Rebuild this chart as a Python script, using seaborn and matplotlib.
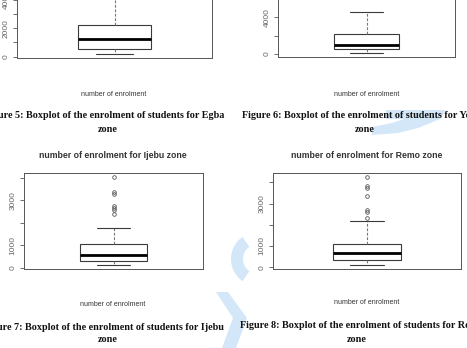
import numpy as np
import pandas as pd
import matplotlib
matplotlib.use("Agg")
import matplotlib.pyplot as plt
from matplotlib.patches import Polygon, Wedge
import seaborn as sns

zones = ["Egba", "Yewa", "Ijebu", "Remo"]
lower_whisker = [200, 130, 100, 80]
q1 = [500, 500, 300, 350]
median = [1250, 1000, 550, 650]
q3 = [2200, 2150, 1040, 1080]
upper_whisker = [4650, 4550, 1770, 2170]
outliers = [
    [],
    [],
    [4050, 3380, 3260, 2750, 2660, 2560, 2370],
    [4280, 3830, 3760, 3380, 2710, 2590, 2300],
]
fig_numbers = [5, 6, 7, 8]
ytick_values = [[0, 1000, 2000, 3000, 4000, 5000],
                [0, 2000, 4000, 6000],
                [0, 1000, 2000, 3000, 4000],
                [0, 1000, 2000, 3000, 4000]]
ytick_labels = [["0", "", "2000", "", "4000", ""],
                ["0", "", "4000", ""],
                ["0", "1000", "", "3000", ""],
                ["0", "1000", "", "3000", ""]]
ylims = [(-70, 5200), (-360, 7000), (-58, 4208), (-88, 4448)]


def sample_from_summary(lo, a, m, b, hi, outs):
    """Build a sample whose boxplot statistics equal the given summary."""
    n_o = len(outs)
    k = n_o + 2
    return [lo] * (n_o + 1) + [a] * k + [m] + [b] * k + [hi] + list(outs)


frames = []
for i, z in enumerate(zones):
    vals = sample_from_summary(lower_whisker[i], q1[i], median[i], q3[i],
                               upper_whisker[i], outliers[i])
    frames.append(pd.DataFrame({"zone": z, "enrolment": vals}))
df = pd.concat(frames, ignore_index=True)

# ---- layout (pixels) ----
W, H = 467, 348
sns.set_style("white")
plt.rcParams["font.family"] = ["Liberation Sans", "DejaVu Sans"]

fig = plt.figure(figsize=(W / 100, H / 100), dpi=100)
fig.patch.set_facecolor("white")


def rect(x0, x1, ytop, ybot):
    return [x0 / W, 1 - ybot / H, (x1 - x0) / W, (ybot - ytop) / H]


def fx(x):
    return x / W


def fy(y):
    return 1 - y / H


# watermark (background)
wm = fig.add_axes([0, 0, 1, 1], zorder=-5)
wm.set_xlim(0, W)
wm.set_ylim(H, 0)
wm.axis("off")
wmc = "#d3e7f9"
wm.add_patch(Wedge((258, 259), 27, 125, 235, width=12, color=wmc, lw=0))
wm.add_patch(Polygon([(216, 292), (228, 292), (247, 318), (236, 348), (222, 348), (233, 318)],
                     closed=True, color=wmc, lw=0))
wm.add_patch(Polygon([(386, 110), (446, 110), (440, 119), (418, 128), (398, 133),
                      (372, 135), (372, 127), (392, 123), (404, 119), (386, 119)],
                     closed=True, color=wmc, lw=0))

axes_px = [(17, 212, -17.3, 57.5), (278, 455, -10.2, 57.3),
           (24, 203, 173, 269), (273, 461, 173, 269)]
box_widths = [0.37, 0.367, 0.374, 0.36]

line_c = "#3a3a3a"
spine_c = "#555555"
text_c = "#333333"

for i, z in enumerate(zones):
    x0, x1, yt, yb = axes_px[i]
    ax = fig.add_axes(rect(x0, x1, yt, yb))
    ax.set_facecolor("none")
    sub = df[df["zone"] == z]
    sns.boxplot(data=sub, y="enrolment", ax=ax, width=box_widths[i],
                color="white", linecolor=line_c, linewidth=0.8,
                whiskerprops={"linestyle": (0, (2.5, 1.5)), "color": "#777777"},
                capprops={"linestyle": "-", "color": line_c},
                medianprops={"color": "black", "linewidth": 2.0},
                flierprops={"marker": "o", "markersize": 2.6,
                            "markerfacecolor": "none",
                            "markeredgecolor": "#555555",
                            "markeredgewidth": 0.6})
    ax.set_xlim(-0.5, 0.5)
    ax.set_ylim(*ylims[i])
    ax.set_yticks(ytick_values[i])
    ax.set_yticklabels(ytick_labels[i], rotation=90, va="center",
                       fontsize=6, color="#666666")
    ax.tick_params(axis="y", left=True, length=3, width=0.6, color=spine_c, pad=2.5)
    ax.set_xticks([])
    ax.set_xlabel("")
    ax.set_ylabel("")
    for s in ax.spines.values():
        s.set_visible(True)
        s.set_color(spine_c)
        s.set_linewidth(0.7)

# axis labels "number of enrolment"
xlab_pos = [(114, 94), (367, 94), (113, 304), (367, 303)]
for (x, y) in xlab_pos:
    fig.text(fx(x), fy(y), "number of enrolment", ha="center", va="center",
             fontsize=5.0, color=text_c)

# titles for lower panels
fig.text(fx(113), fy(155), "number of enrolment for Ijebu zone", ha="center",
         va="center", fontsize=6.3, fontweight="bold", color=text_c)
fig.text(fx(367), fy(155), "number of enrolment for Remo zone", ha="center",
         va="center", fontsize=6.3, fontweight="bold", color=text_c)

# figure captions
cap_font = dict(family=["Liberation Serif", "DejaVu Serif"], fontweight="bold",
                fontsize=7.3, color="#111111", va="center")
caps = [
    (224, 116, "right", f"Figure {fig_numbers[0]}: Boxplot of the enrolment of students for {zones[0]}", 108, 129),
    (242, 116, "left", f"Figure {fig_numbers[1]}: Boxplot of the enrolment of students for {zones[1]}", 365, 129),
    (224, 327, "right", f"Figure {fig_numbers[2]}: Boxplot of the enrolment of students for {zones[2]}", 108, 339),
    (240, 325, "left", f"Figure {fig_numbers[3]}: Boxplot of the enrolment of students for {zones[3]}", 357, 339),
]
for x, y, ha, txt, zx, zy in caps:
    fig.text(fx(x), fy(y), txt, ha=ha, **cap_font)
    fig.text(fx(zx), fy(zy), "zone", ha="center", **cap_font)

fig.savefig("out.png", dpi=100, facecolor="white")
